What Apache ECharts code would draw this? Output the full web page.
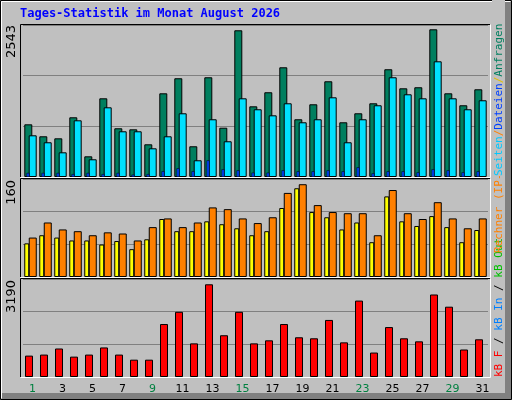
<!DOCTYPE html>
<html><head><meta charset="utf-8">
<script src="https://cdn.jsdelivr.net/npm/echarts@6/dist/echarts.min.js"></script>
<style>html,body{margin:0;padding:0;background:#c0c0c0}#c{width:512px;height:400px}</style>
</head><body><div id="c"></div>
<script>
const days = ['1','2','3','4','5','6','7','8','9','10','11','12','13','14','15','16','17','18','19','20','21','22','23','24','25','26','27','28','29','30','31'];
const weekend = [1,2,8,9,15,16,22,23,29,30];
const hits = [907,701,666,1028,356,1355,839,821,563,1441,1700,529,1717,849,2526,1217,1459,1889,994,1252,1648,942,1097,1269,1855,1527,1545,2543,1441,1235,1510];
const files = [718,598,425,976,305,1200,787,787,494,701,1097,288,994,615,1355,1166,1062,1269,942,994,1372,598,994,1235,1717,1424,1355,1992,1355,1166,1321];
const pages = [70,70,70,50,70,50,70,40,50,100,150,100,287,132,115,75,75,115,98,98,115,98,167,63,98,98,80,132,115,80,98];
const visits = [58,72,68,63,63,56,62,48,65,100,79,79,96,91,84,72,79,119,153,112,103,82,94,60,139,96,88,105,86,60,81];
const sites = [68,94,82,79,72,77,75,63,86,101,86,94,120,117,101,93,103,145,160,124,112,110,110,72,150,110,100,129,101,84,101];
const kbytes = [736,771,981,701,771,1017,771,596,596,1823,2243,1157,3190,1437,2243,1157,1262,1823,1367,1332,1963,1192,2629,841,1718,1332,1227,2839,2419,946,1297];
const maxLabels = ['2543','160','3190'];

const ch = echarts.init(document.getElementById('c'), null, {renderer:'canvas'});
const grids = [{left:23,width:465,top:25,height:152},{left:23,width:465,top:179,height:98},{left:23,width:465,top:279,height:98}];
const ymax = [2617,169,3372];
const bs = {borderColor:'#000',borderWidth:1};
function xa(i, show){return {type:'category',data:days,gridIndex:i,show:show,axisLine:{show:false},axisTick:{show:false},
  axisLabel:{show:show,margin:7,fontFamily:'DejaVu Sans',fontSize:11,padding:[0,0,0,4],color:(v,idx)=>weekend.includes(+v)?'#008040':'#000'}};}
function ya(i){return {type:'value',gridIndex:i,min:0,max:ymax[i],interval:ymax[i]/3,axisLabel:{show:false},axisLine:{show:false},axisTick:{show:false},splitLine:{lineStyle:{color:'#808080',width:1}}};}
const xAxis=[xa(0,false),xa(1,false),xa(2,true),xa(0,false),xa(2,false)];
const yAxis=[ya(0),ya(1),ya(2),ya(0),ya(2)];
const series=[
 {type:'bar',xAxisIndex:0,yAxisIndex:0,data:hits,barWidth:8,barGap:'-45%',itemStyle:Object.assign({color:'#007f5f'},bs),z:2},
 {type:'bar',xAxisIndex:0,yAxisIndex:0,data:files,barWidth:8,barGap:'-45%',itemStyle:Object.assign({color:'#00e0ff'},bs),z:3},
 {type:'bar',xAxisIndex:3,yAxisIndex:3,data:pages,barWidth:3,barGap:0,itemStyle:{color:'#0040ff',borderColor:'#000',borderWidth:0.5},z:4},
 {type:'bar',xAxisIndex:3,yAxisIndex:3,data:pages.map(()=>0),barWidth:5,barGap:0,itemStyle:{color:'transparent'},silent:true},
 {type:'bar',xAxisIndex:1,yAxisIndex:1,data:visits,barWidth:5,barGap:'-10%',itemStyle:Object.assign({color:'#ffff00'},bs),z:2},
 {type:'bar',xAxisIndex:1,yAxisIndex:1,data:sites,barWidth:8,barGap:'-10%',itemStyle:Object.assign({color:'#ff8000'},bs),z:3},
 {type:'bar',xAxisIndex:2,yAxisIndex:2,data:kbytes,barWidth:8,barGap:0,itemStyle:Object.assign({color:'#ff0000'},bs),z:2},
 {type:'bar',xAxisIndex:2,yAxisIndex:2,data:kbytes.map(()=>0),barWidth:3,barGap:0,itemStyle:{color:'transparent'},silent:true}
];
const mono='DejaVu Sans Mono';
const g=[];
// outer 3D frame
g.push({type:'rect',shape:{x:0.5,y:0.5,width:511,height:399},style:{fill:'none',stroke:'#000',lineWidth:1},z:0});
g.push({type:'polyline',shape:{points:[[1.5,398],[1.5,1.5],[510,1.5]]},style:{stroke:'#fff',lineWidth:1,fill:null},z:0});
g.push({type:'rect',shape:{x:505,y:2,width:6,height:397},style:{fill:'#808080'},z:0});
g.push({type:'rect',shape:{x:2,y:393,width:509,height:6},style:{fill:'#808080'},z:0});
// panel frames
[[25,152],[179,98],[279,98]].forEach(([t,h])=>{
  g.push({type:'polyline',shape:{points:[[20.5,t+h],[20.5,t-0.5],[490,t-0.5]]},style:{stroke:'#000',lineWidth:1,fill:null},z:10});
  g.push({type:'polyline',shape:{points:[[20.5,t+h+0.5],[490.5,t+h+0.5],[490.5,t-0.5]]},style:{stroke:'#fff',lineWidth:1,fill:null},z:10});
});
g.push({type:'text',x:20,y:8,style:{text:'Tages-Statistik im Monat August 2026',fill:'#0000ff',font:'bold 12px "DejaVu Sans Mono"'},z:10});
[[25,0],[180,1],[280,2]].forEach(([y,i])=>{
  g.push({type:'text',x:12,y:y,rotation:Math.PI/2,style:{text:maxLabels[i],fill:'#000',font:'13px "DejaVu Sans"',align:'right',verticalAlign:'middle'},z:10});
});
function vtext(y0,parts){ // bottom-to-top rich text
  const rich={};parts.forEach((p,i)=>rich['p'+i]={fill:p[1],font:'11px "DejaVu Sans Mono"'});
  g.push({type:'text',x:499,y:y0,rotation:Math.PI/2,style:{text:parts.map((p,i)=>'{p'+i+'|'+p[0]+'}').join(''),rich:rich,align:'left',verticalAlign:'middle'},z:10});
}
vtext(377,[['kB F','#ff0000'],[' / ','#000'],['kB In','#0080ff'],[' / ','#000'],['kB Out','#00c000']]);
vtext(253,[['Rechner (IP-Adressen)','#ff8000']]);
g.push({type:'rect',shape:{x:492,y:0,width:13,height:176},style:{fill:'#c0c0c0'},z:10});
g.push({type:'text',x:499,y:176,rotation:Math.PI/2,style:{text:'{a|Seiten}{b|/}{c|Dateien}{d|/}{e|Anfragen}',rich:{a:{fill:'#00c8ff',font:'11px "DejaVu Sans Mono"'},b:{fill:'#ff8000',font:'11px "DejaVu Sans Mono"'},c:{fill:'#0040ff',font:'11px "DejaVu Sans Mono"'},d:{fill:'#e0c000',font:'11px "DejaVu Sans Mono"'},e:{fill:'#007f5f',font:'11px "DejaVu Sans Mono"'}},align:'left',verticalAlign:'middle'},z:11});
ch.setOption({animation:false,backgroundColor:'#c0c0c0',grid:grids,xAxis:xAxis,yAxis:yAxis,series:series,graphic:g});
</script></body></html>
